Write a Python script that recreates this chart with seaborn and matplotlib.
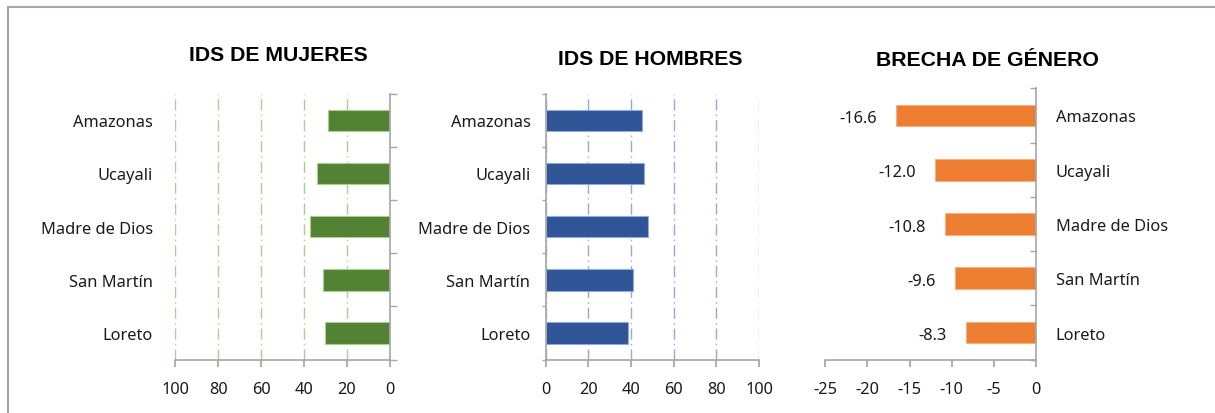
import numpy as np
import pandas as pd
import matplotlib.pyplot as plt
import seaborn as sns

# datos por región
regiones = ["Amazonas", "Ucayali", "Madre de Dios", "San Martín", "Loreto"]
ids_mujeres = [28.7, 34.1, 37.0, 31.2, 30.3]
ids_hombres = [45.3, 46.1, 47.8, 40.8, 38.6]
brecha = [-16.6, -12.0, -10.8, -9.6, -8.3]

df = pd.DataFrame({"region": regiones, "mujeres": ids_mujeres,
                   "hombres": ids_hombres, "brecha": brecha})

sns.set_theme(style="white")
plt.rcParams["font.family"] = ["Noto Sans", "DejaVu Sans"]
plt.rcParams["axes.unicode_minus"] = False

gris = "#a6a6a6"
texto = "#1a1a1a"
fs = 11.8
dashdot = (0, (8, 3, 1, 3))
limites = np.arange(len(regiones) + 1) - 0.5

fig = plt.figure(figsize=(12.15, 4.14), dpi=100)
ax1 = fig.add_axes([0.1443, 0.1288, 0.1765, 0.6425])
ax2 = fig.add_axes([0.4491, 0.1288, 0.1756, 0.6425])
ax3 = fig.add_axes([0.6790, 0.1288, 0.1739, 0.6555])

# IDS de mujeres
sns.barplot(data=df, y="region", x="mujeres", color="#548235", width=0.4,
            saturation=1, edgecolor="#a9d18e", linewidth=0.8, ax=ax1)
ax1.set_xlim(100, 0)
ax1.set_xticks(range(0, 101, 20))
ax1.grid(axis="x", color="#a9d18e", linestyle=dashdot, linewidth=1)
for s in ["left", "top"]:
    ax1.spines[s].set_visible(False)
ax1.tick_params(axis="y", which="major", left=False, right=False,
                labelleft=True, labelright=False, length=0, pad=16)
ax1.set_yticks(limites, minor=True)
ax1.tick_params(axis="y", which="minor", left=False, right=True,
                direction="out", length=5, color=gris)

# IDS de hombres
sns.barplot(data=df, y="region", x="hombres", color="#2f5597", width=0.4,
            saturation=1, edgecolor="#8faadc", linewidth=0.8, ax=ax2)
ax2.set_xlim(0, 100)
ax2.set_xticks(range(0, 101, 20))
ax2.grid(axis="x", color="#8faadc", linestyle=dashdot, linewidth=1)
for s in ["right", "top"]:
    ax2.spines[s].set_visible(False)
ax2.tick_params(axis="y", which="major", left=False, length=0, pad=11)
ax2.set_yticks(limites, minor=True)
ax2.tick_params(axis="y", which="minor", left=True, direction="out",
                length=3, color=gris)

# brecha de género
sns.barplot(data=df, y="region", x="brecha", color="#ed7d31", width=0.4,
            saturation=1, edgecolor="#f4b183", linewidth=0.8, ax=ax3)
ax3.set_xlim(-25, 0)
ax3.set_xticks(range(-25, 1, 5))
for s in ["left", "top"]:
    ax3.spines[s].set_visible(False)
ax3.tick_params(axis="y", which="major", left=False, right=False,
                labelleft=False, labelright=True, length=0, pad=14)
ax3.set_yticks(limites, minor=True)
ax3.tick_params(axis="y", which="minor", left=False, right=True,
                direction="in", length=4, color=gris)
etiquetas = ax3.bar_label(ax3.containers[0], fmt="%.1f", padding=14,
                          fontsize=fs, color=texto)
for e in etiquetas:
    e.xyann = (e.xyann[0], -2)

for ax in [ax1, ax2, ax3]:
    ax.set_xlabel("")
    ax.set_ylabel("")
    ax.set_axisbelow(True)
    for s in ["left", "right", "bottom"]:
        ax.spines[s].set_color(gris)
        ax.spines[s].set_linewidth(1.2)
    ax.tick_params(axis="x", bottom=True, direction="out", length=5,
                   color=gris, labelsize=fs, labelcolor=texto, pad=10)
    ax.tick_params(axis="y", labelsize=fs, labelcolor=texto)

titulos = [("IDS DE MUJERES", 278, 55.5), ("IDS DE HOMBRES", 650.5, 59.2),
           ("BRECHA DE GÉNERO", 987.7, 60.5)]
for t, x, y in titulos:
    fig.text(x / 1215, 1 - y / 414, t, ha="center", va="center",
             fontsize=15.3, fontweight="bold", family="Liberation Sans",
             color="#000000")

# marco
fig.add_artist(plt.Line2D([8 / 1215, 1], [1 - 8 / 414] * 2,
                          transform=fig.transFigure, color=gris, lw=1.5))
fig.add_artist(plt.Line2D([8 / 1215] * 2, [0, 1 - 8 / 414],
                          transform=fig.transFigure, color=gris, lw=1.5))

fig.savefig("out.png", dpi=100)
